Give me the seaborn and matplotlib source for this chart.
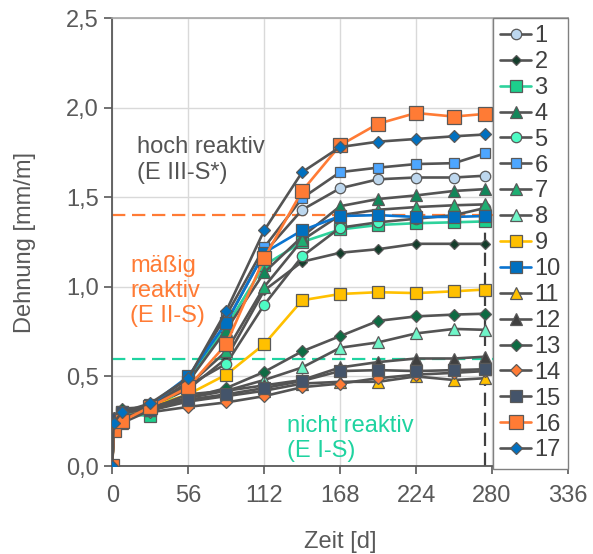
import matplotlib
matplotlib.use("Agg")
import matplotlib.pyplot as plt
import seaborn as sns
import pandas as pd
from matplotlib.ticker import FuncFormatter

# Zeitpunkte [d]
zeit = [0, 1, 7, 28, 56, 84, 112, 140, 168, 196, 224, 252, 275]

# Dehnung [mm/m] je Probe
d1 = [0, 0.24, 0.29, 0.33, 0.47, 0.80, 1.19, 1.43, 1.55, 1.60, 1.61, 1.61, 1.62]
d2 = [0, 0.25, 0.30, 0.33, 0.43, 0.60, 0.98, 1.14, 1.19, 1.21, 1.24, 1.24, 1.24]
d3 = [0, 0.26, 0.29, 0.28, 0.47, 0.78, 1.12, 1.25, 1.32, 1.345, 1.355, 1.36, 1.365]
d4 = [0, 0.27, 0.31, 0.32, 0.47, 0.76, 1.08, 1.28, 1.45, 1.49, 1.51, 1.535, 1.545]
d5 = [0, 0.25, 0.30, 0.33, 0.45, 0.57, 0.90, 1.17, 1.33, 1.36, 1.38, 1.40, 1.44]
d6 = [0, 0.26, 0.30, 0.34, 0.49, 0.84, 1.22, 1.495, 1.64, 1.665, 1.685, 1.69, 1.745]
d7 = [0, 0.27, 0.31, 0.32, 0.45, 0.64, 1.00, 1.26, 1.40, 1.43, 1.445, 1.455, 1.46]
d8 = [0, 0.25, 0.30, 0.32, 0.38, 0.42, 0.48, 0.55, 0.66, 0.69, 0.74, 0.765, 0.76]
d9 = [0, 0.22, 0.26, 0.33, 0.40, 0.51, 0.68, 0.925, 0.96, 0.97, 0.965, 0.975, 0.985]
d10 = [0, 0.25, 0.30, 0.34, 0.50, 0.80, 1.19, 1.315, 1.395, 1.40, 1.39, 1.39, 1.395]
d11 = [0, 0.21, 0.24, 0.31, 0.36, 0.39, 0.42, 0.46, 0.47, 0.47, 0.50, 0.48, 0.49]
d12 = [0, 0.26, 0.31, 0.32, 0.40, 0.42, 0.45, 0.48, 0.55, 0.58, 0.60, 0.60, 0.61]
d13 = [0, 0.27, 0.32, 0.33, 0.38, 0.435, 0.525, 0.64, 0.725, 0.81, 0.835, 0.845, 0.85]
d14 = [0, 0.24, 0.28, 0.30, 0.33, 0.355, 0.39, 0.44, 0.46, 0.49, 0.51, 0.52, 0.53]
d15 = [0, 0.26, 0.30, 0.31, 0.37, 0.40, 0.435, 0.475, 0.53, 0.535, 0.53, 0.535, 0.54]
d16 = [0, 0.20, 0.25, 0.33, 0.44, 0.68, 1.16, 1.535, 1.79, 1.91, 1.97, 1.95, 1.965]
d17 = [0, 0.24, 0.30, 0.35, 0.49, 0.865, 1.315, 1.64, 1.78, 1.81, 1.825, 1.84, 1.85]

werte = [d1, d2, d3, d4, d5, d6, d7, d8, d9, d10, d11, d12, d13, d14, d15, d16, d17]
namen = [str(i) for i in range(1, 18)]

grenze_hoch = 1.4
grenze_nicht = 0.6
ende = 275

rows = []
for name, vals in zip(namen, werte):
    for t, v in zip(zeit, vals):
        rows.append({"Zeit": t, "Dehnung": v, "Probe": name})
df = pd.DataFrame(rows)

grau = "#545454"
orange = "#ff7b35"
gruen = "#1fd3a0"

# (marker, face, line colour, size)
stile = [
    ("o", "#bdd7ee", grau, 7.5),
    ("D", "#143d2b", grau, 5.5),
    ("s", "#1ccf8c", "#2ed29c", 8.5),
    ("^", "#11875a", grau, 8),
    ("o", "#4dfcc4", grau, 7.5),
    ("s", "#4da6ff", grau, 7.5),
    ("^", "#1fae72", grau, 8),
    ("^", "#70f5c8", grau, 8),
    ("s", "#ffc000", "#ffc000", 9),
    ("s", "#0070c0", "#0a74d0", 9),
    ("^", "#ffc000", grau, 8),
    ("^", "#404040", grau, 8),
    ("D", "#0e6b43", grau, 6),
    ("D", "#ff7b35", grau, 6),
    ("s", "#44546a", grau, 8.5),
    ("s", "#ff7b35", "#ff7b35", 9.5),
    ("D", "#0070c0", grau, 6),
]

sns.set_style("white")
plt.rcParams["font.family"] = ["Liberation Sans", "DejaVu Sans"]

fig = plt.figure(figsize=(5.93, 5.54), dpi=100)
ax = fig.add_axes([0.1894, 0.1588, 0.7684, 0.8087])

ax.axhline(grenze_hoch, color=orange, lw=1.6, ls=(0, (6, 3)), zorder=1)
ax.axhline(grenze_nicht, color=gruen, lw=1.6, ls=(0, (6, 3)), zorder=1)
ax.plot([ende, ende], [0, grenze_hoch], color="#404040", lw=1.6,
        ls=(0, (6, 3)), zorder=1)

for name, (m, fc, lc, ms) in zip(namen, stile):
    sub = df[df["Probe"] == name]
    sns.lineplot(data=sub, x="Zeit", y="Dehnung", ax=ax, color=lc, lw=1.9,
                 marker=m, markersize=ms, markerfacecolor=fc,
                 markeredgecolor="#595959", markeredgewidth=0.9,
                 label=name, zorder=3)

ax.set_xlim(0, 336)
ax.set_ylim(0, 2.5)
ax.set_xticks(range(0, 337, 56))
ax.set_yticks([0, 0.5, 1.0, 1.5, 2.0, 2.5])
ax.yaxis.set_major_formatter(FuncFormatter(lambda v, p: f"{v:.1f}".replace(".", ",")))
ax.grid(True, color="#d9d9d9", lw=1)
ax.set_axisbelow(True)

ax.tick_params(axis="both", labelsize=17, colors="#595959", length=6,
               width=1.2, direction="out", left=True, bottom=True)
ax.tick_params(axis="x", pad=8)
for s in ["left", "bottom"]:
    ax.spines[s].set_color("#595959")
    ax.spines[s].set_linewidth(1.3)
for s in ["top", "right"]:
    ax.spines[s].set_color("#a6a6a6")
    ax.spines[s].set_linewidth(1.2)

ax.set_xlabel("Zeit [d]", fontsize=17, color="#595959", labelpad=17)
ax.set_ylabel("Dehnung [mm/m]", fontsize=17, color="#595959", labelpad=22)

ax.text(18, 1.84, "hoch reaktiv\n(E III-S*)", fontsize=17, color=grau,
        va="top", ha="left")
ax.text(13, 1.18, "mäßig\nreaktiv\n(E II-S)", fontsize=17, color=orange,
        va="top", ha="left")
ax.text(129, 0.285, "nicht reaktiv\n(E I-S)", fontsize=17, color=gruen,
        va="top", ha="left")

leg = ax.legend(loc="upper right", bbox_to_anchor=(1.0, 1.0), borderaxespad=0,
                fontsize=17, labelspacing=0.165, handlelength=1.3,
                handletextpad=0.15, borderpad=0.3, frameon=True,
                fancybox=False, framealpha=1, edgecolor="#808080")
leg.get_frame().set_linewidth(1.0)
for t in leg.get_texts():
    t.set_color("#404040")

fig.savefig("out.png", dpi=100)
